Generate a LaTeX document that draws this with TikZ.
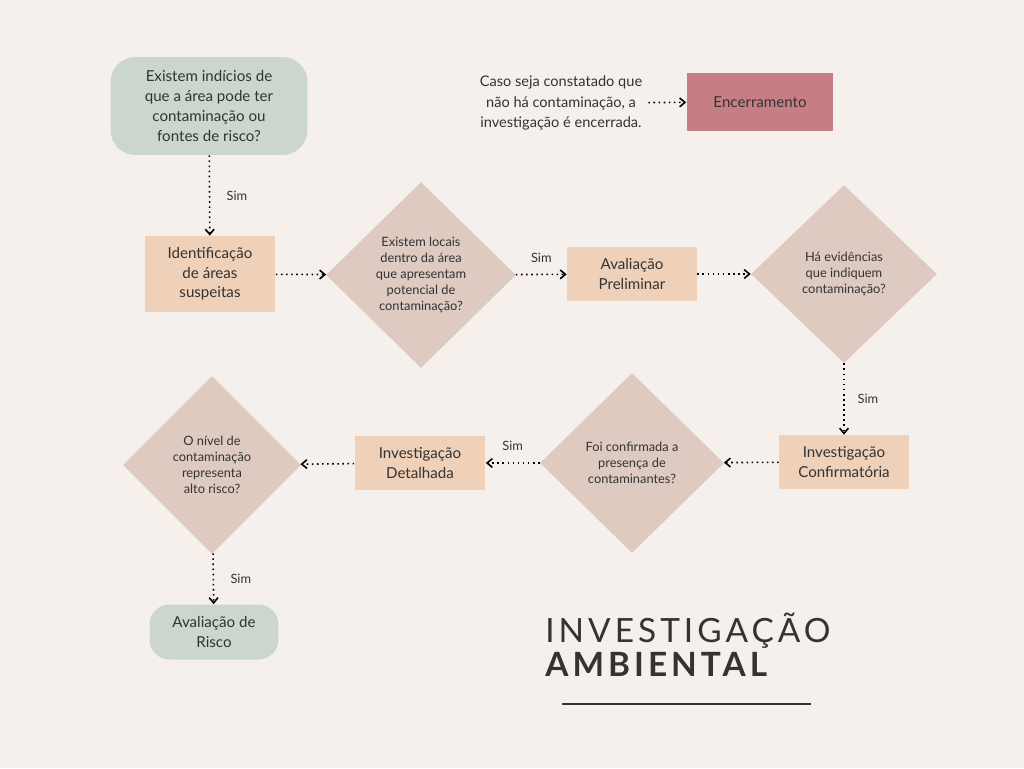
\documentclass[tikz,border=0pt]{standalone}
\usepackage{fontspec}
\setmainfont{Lato}
\newfontfamily\titlefont[LetterSpace=12]{Lato}
\usetikzlibrary{shapes.geometric,arrows.meta}
\definecolor{bgc}{HTML}{F5F0EB}
\definecolor{sage}{HTML}{CBD6CC}
\definecolor{peach}{HTML}{EFD0B8}
\definecolor{rose}{HTML}{DFCAC1}
\definecolor{wine}{HTML}{C67E84}
\definecolor{ink}{HTML}{333333}
\tikzset{
  term/.style={rounded corners=0.5cm,fill=sage,align=center,text=ink,font=\fontsize{8.6}{11.5}\selectfont},
  box/.style={fill=peach,align=center,text=ink,font=\fontsize{8.6}{11}\selectfont},
  ask/.style={diamond,fill=rose,inner sep=0pt,align=center,text=ink,font=\fontsize{7.3}{9}\selectfont},
  flow/.style={dotted,line width=0.9pt,-{Straight Barb[length=3pt,width=5pt]}},
  yes/.style={font=\fontsize{7.3}{9}\selectfont,text=ink}
}
\begin{document}
\begin{tikzpicture}[x=0.02cm,y=-0.02cm]
        \fill[bgc] (0,0) rectangle (1024,768);
        \useasboundingbox (0,0) rectangle (1024,768);
        \node[term,minimum width=3.94cm,minimum height=1.96cm] (s0) at (209,106) {Existem indícios de\\que a área pode ter\\contaminação ou\\fontes de risco?};
        \node[box,minimum width=2.62cm,minimum height=1.52cm] (s1) at (210,274) {Identificação\\de áreas\\suspeitas};
        \node[ask,minimum width=3.8cm,minimum height=3.72cm] (q1) at (421,275) {Existem locais\\dentro da área\\que apresentam\\potencial de\\contaminação?};
        \node[box,minimum width=2.6cm,minimum height=1.08cm] (s2) at (632,274) {Avaliação\\Preliminar};
        \node[ask,minimum width=3.72cm,minimum height=3.56cm] (q2) at (844,274) {Há evidências\\que indiquem\\contaminação?};
        \node[box,minimum width=2.6cm,minimum height=1.08cm] (s3) at (844,462) {Investigação\\Confirmatória};
        \node[ask,minimum width=3.68cm,minimum height=3.6cm] (q3) at (632,463) {Foi confirmada a\\presença de\\contaminantes?};
        \node[box,minimum width=2.62cm,minimum height=1.08cm] (s4) at (420,463) {Investigação\\Detalhada};
        \node[ask,minimum width=3.56cm,minimum height=3.56cm] (q4) at (212,465) {O nível de\\contaminação\\representa\\alto risco?};
        \node[term,rounded corners=0.4cm,minimum width=2.58cm,minimum height=1.1cm] (s5) at (214,632) {Avaliação de\\Risco};
        \node[align=center,text=ink,font=\fontsize{8.3}{11.5}\selectfont] (note) at (561,103) {Caso seja constatado que\\não há contaminação, a\\investigação é encerrada.};
        \node[fill=wine,text=ink,minimum width=2.94cm,minimum height=1.16cm,font=\fontsize{8.6}{11}\selectfont] (end) at (760,102) {Encerramento};
        \draw[flow] (s0) -- node[yes,right=6pt] {Sim} (s1);
        \draw[flow] (s1) -- (q1);
        \draw[flow] (q1) -- node[yes,above=3pt] {Sim} (s2);
        \draw[flow] (s2) -- (q2);
        \draw[flow] (q2) -- node[yes,right=4pt] {Sim} (s3);
        \draw[flow] (s3) -- (q3);
        \draw[flow] (q3) -- node[yes,above=3pt] {Sim} (s4);
        \draw[flow] (s4) -- (q4);
        \draw[flow] (q4) -- node[yes,right=6pt] {Sim} (s5);
        \draw[flow] (note) -- (end);
        \node[anchor=base west,inner sep=0pt,text=ink,font=\fontsize{19}{20}\titlefont] (t1) at (545,642) {INVESTIGAÇÃO};
        \node[anchor=base west,inner sep=0pt,text=ink,font=\fontsize{19}{20}\titlefont\bfseries] (t2) at (545,676) {AMBIENTAL};
        \draw[ink,line width=0.6pt] (562,704) -- (811,704);
\end{tikzpicture}
\end{document}
